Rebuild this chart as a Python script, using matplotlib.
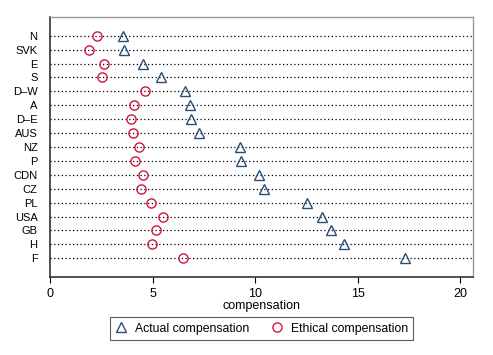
import matplotlib
matplotlib.use("Agg")
import matplotlib.pyplot as plt
from matplotlib.lines import Line2D

countries = ["N", "SVK", "E", "S", "D\u2013W", "A", "D\u2013E", "AUS", "NZ", "P",
             "CDN", "CZ", "PL", "USA", "GB", "H", "F"]
actual = [3.54, 3.63, 4.53, 5.43, 6.57, 6.83, 6.86, 7.25, 9.27, 9.31,
          10.17, 10.43, 12.53, 13.25, 13.71, 14.33, 17.31]
ethical = [2.28, 1.92, 2.62, 2.53, 4.65, 4.11, 3.94, 4.07, 4.34, 4.14,
           4.53, 4.45, 4.95, 5.53, 5.15, 4.99, 6.47]
xticks = [0, 5, 10, 15, 20]

plt.rcParams['font.family'] = ['Liberation Sans', 'DejaVu Sans']

fig = plt.figure(figsize=(4.93, 3.55), dpi=100)
ax = fig.add_axes([0.1014, 0.2189, 0.9588 - 0.1014, 0.953 - 0.2189])

n = len(countries)
ypos = list(range(n))
for y in ypos:
    ax.axhline(y, color='black', linestyle=(0, (1, 2)), linewidth=0.9, zorder=1)

ax.plot(actual, ypos, linestyle='none', marker='^', markersize=7.2,
        markerfacecolor='none', markeredgecolor='#2b4f73', markeredgewidth=1.0, zorder=3)
ax.plot(ethical, ypos, linestyle='none', marker='o', markersize=6.6,
        markerfacecolor='none', markeredgecolor='#d0163f', markeredgewidth=1.0, zorder=3)

ax.set_xlim(0, (472.7 - 49.7) / 20.52)
ax.set_ylim(n - 1 + 1.37, -1.37)
ax.set_yticks(ypos)
ax.set_yticklabels(countries)
ax.set_xticks(xticks)
ax.tick_params(axis='y', length=0, labelsize=8, pad=9)
ax.tick_params(axis='x', length=4, labelsize=9, width=0.8)
ax.set_xlabel("compensation", fontsize=9, labelpad=0)

for side in ['left', 'bottom']:
    ax.spines[side].set_color('#333333')
    ax.spines[side].set_linewidth(1.2)
for side in ['top', 'right']:
    ax.spines[side].set_color('#999999')
    ax.spines[side].set_linewidth(1.0)

handles = [
    Line2D([], [], linestyle='none', marker='^', markersize=7.2, markerfacecolor='none',
           markeredgecolor='#2b4f73', markeredgewidth=1.0, label='Actual compensation'),
    Line2D([], [], linestyle='none', marker='o', markersize=6.6, markerfacecolor='none',
           markeredgecolor='#d0163f', markeredgewidth=1.0, label='Ethical compensation'),
]
leg = fig.legend(handles=handles, loc='center', bbox_to_anchor=(261.5 / 493, 1 - 328.7 / 355),
                 ncol=2, fontsize=8.8, frameon=True, fancybox=False, edgecolor='#333333',
                 handlelength=1.0, handletextpad=0.6, columnspacing=1.8,
                 borderpad=0.45)
leg.get_frame().set_linewidth(0.8)

fig.savefig("out.png", dpi=100)
